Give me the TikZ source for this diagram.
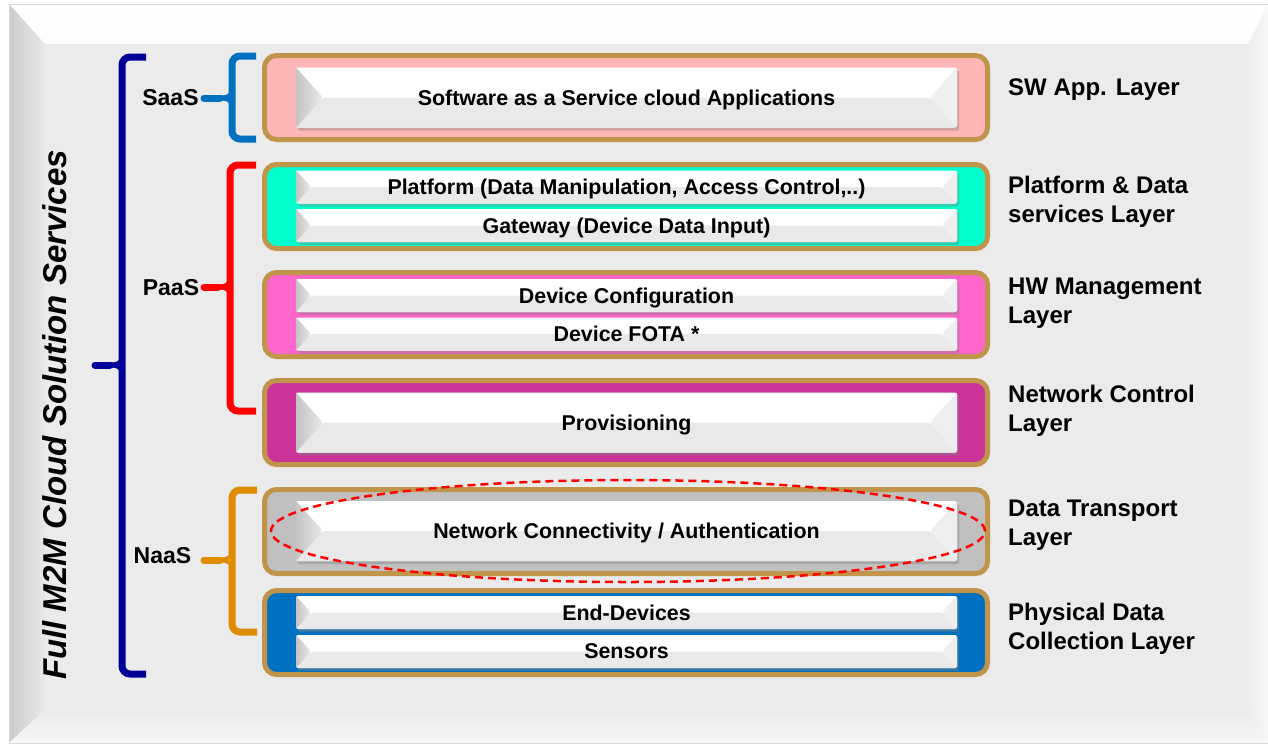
\documentclass[tikz,border=0pt]{standalone}
\usepackage{fontspec}
\setmainfont{Liberation Sans}
\usetikzlibrary{shadows,shapes.geometric}

\definecolor{face}{HTML}{EBEBEB}
\definecolor{layerrim}{HTML}{C0954B}
\definecolor{saasfill}{HTML}{FFB6B6}
\definecolor{platfill}{HTML}{00FFCC}
\definecolor{hwfill}{HTML}{FF66CC}
\definecolor{netfill}{HTML}{CC3399}
\definecolor{transfill}{HTML}{C0C0C0}
\definecolor{physfill}{HTML}{0070C0}
\definecolor{saasblue}{HTML}{0070C0}
\definecolor{paasred}{HTML}{FF0000}
\definecolor{naasorange}{HTML}{E08C00}
\definecolor{fullnavy}{HTML}{000099}
\definecolor{btnlow}{HTML}{E9E9E9}
\definecolor{btnleft}{HTML}{C4C4C4}
\definecolor{btnright}{HTML}{EFEFEF}

% square bracket with a small spike pointing left
% #1 colour, #2 x of the spine, #3 top, #4 bottom, #5 y of spike, #6 x of spike tip, #7 x of the bracket ends
\newcommand\layerbrace[7]{%
  \draw[#1, line width=7pt, rounded corners=8pt] (#7,#3) -- (#2,#3) -- (#2,#4) -- (#7,#4);
  \draw[#1, line width=7pt, line cap=round] (#6,#5) -- ({#2-12},#5);
  \draw[#1, line width=5pt] ({#2-12},#5) .. controls ({#2-3},#5) and (#2,{#5-2}) .. (#2,{#5-9});
  \draw[#1, line width=5pt] ({#2-12},#5) .. controls ({#2-3},#5) and (#2,{#5+2}) .. (#2,{#5+9});
}

\tikzset{
  layerbox/.style={draw=layerrim, line width=5pt, rounded corners=12pt,
    minimum width=723pt, minimum height=84pt, inner sep=0pt},
  bevelsize/.store in=\bevsize, bevelsize=15,
  btn/.style={rounded corners=2pt, minimum width=661pt, inner sep=0pt, fill=white,
    font=\bfseries\fontsize{21.4}{25}\selectfont, text depth=0pt,
    drop shadow={shadow xshift=2pt, shadow yshift=-3pt, opacity=0.4},
    path picture={
      \fill[btnlow] ([xshift=\bevsize pt]path picture bounding box.west)
        -- (path picture bounding box.south west) -- (path picture bounding box.south east)
        -- ([xshift=-\bevsize pt]path picture bounding box.east) -- cycle;
      \shade[left color=btnleft, right color=btnlow] (path picture bounding box.north west)
        -- ([xshift=\bevsize pt]path picture bounding box.west)
        -- (path picture bounding box.south west) -- cycle;
      \fill[btnright] (path picture bounding box.north east)
        -- ([xshift=-\bevsize pt]path picture bounding box.east)
        -- (path picture bounding box.south east) -- cycle;
    }},
  tallbtn/.style={btn, minimum height=60pt, bevelsize=27},
  thinbtn/.style={btn, minimum height=33pt, bevelsize=15},
  sidelabel/.style={font=\bfseries\fontsize{24}{29}\selectfont, anchor=west, align=left, inner sep=0pt},
  bracelabel/.style={font=\bfseries\fontsize{23}{27}\selectfont, inner sep=0pt},
}

\begin{document}
\begin{tikzpicture}[x=1pt, y=-1pt]
\useasboundingbox (0,0) rectangle (1268,745);

% bevelled panel
\fill[white] (0,0) rectangle (1268,745);
\shade[top color=white, bottom color=white!90!face] (9,4) -- (1268,4) -- (1248,44) -- (45,44) -- cycle;
\shade[left color=black!20, right color=black!9] (9,4) -- (45,44) -- (45,710) -- (9,743) -- cycle;
\shade[left color=black!7, right color=black!3] (1268,4) -- (1268,743) -- (1248,710) -- (1248,44) -- cycle;
\shade[top color=black!8, bottom color=black!3] (9,743) -- (1268,743) -- (1248,710) -- (45,710) -- cycle;
\fill[face] (45,44) rectangle (1248,710);
\draw[black!15, line width=1pt] (9,4) rectangle (1268,743);

% layer boxes
\node[layerbox, fill=saasfill]  (L1) at (626,97.5)  {};
\node[layerbox, fill=platfill]  (L2) at (626,206.5) {};
\node[layerbox, fill=hwfill]    (L3) at (626,314.5) {};
\node[layerbox, fill=netfill]   (L4) at (626,422.5) {};
\node[layerbox, fill=transfill] (L5) at (626,531.5) {};
\node[layerbox, fill=physfill]  (L6) at (626,632.5) {};

% service buttons
\node[tallbtn] (B1)  at (626.5,97.5)  {Software as a Service cloud Applications};
\node[thinbtn] (B2a) at (626.5,187)   {Platform (Data Manipulation, Access Control,..)};
\node[thinbtn] (B2b) at (626.5,225.5) {Gateway (Device Data Input)};
\node[thinbtn] (B3a) at (626.5,295.5) {Device Configuration};
\node[thinbtn] (B3b) at (626.5,334)   {Device FOTA *};
\node[tallbtn] (B4)  at (626.5,422.5) {Provisioning};
\node[tallbtn] (B5)  at (626.5,531)   {Network Connectivity / Authentication};
\node[thinbtn] (B6a) at (626.5,612.5) {End-Devices};
\node[thinbtn] (B6b) at (626.5,651.5) {Sensors};

% highlight ring
\node[draw=paasred, dashed, dash pattern=on 8pt off 5pt, line width=2.5pt, ellipse,
      minimum width=714pt, minimum height=102pt, inner sep=0pt] (ring) at (628,531) {};

% layer names
\node[sidelabel] (N1) at (1008,90)    {SW App. Layer};
\node[sidelabel] (N2) at (1008,202) {Platform \& Data\\services Layer};
\node[sidelabel] (N3) at (1008,303) {HW Management\\Layer};
\node[sidelabel] (N4) at (1008,411) {Network Control\\Layer};
\node[sidelabel] (N5) at (1008,525) {Data Transport\\Layer};
\node[sidelabel] (N6) at (1008,629) {Physical Data\\Collection Layer};

% service model brackets
\layerbrace{saasblue}{232}{56}{139}{98}{204}{256}
\layerbrace{paasred}{230}{165}{411}{287}{204}{256}
\layerbrace{naasorange}{232}{490}{632}{560}{204}{257}
\layerbrace{fullnavy}{122}{57}{674}{365}{95}{146}

\node[bracelabel] (S) at (170.5,98)  {SaaS};
\node[bracelabel] (P) at (171,288)   {PaaS};
\node[bracelabel] (N) at (162.5,556) {NaaS};

\node[font=\bfseries\itshape\fontsize{33}{37}\selectfont, rotate=90, inner sep=0pt] (T) at (55,415)
  {Full M2M Cloud Solution Services};
\end{tikzpicture}
\end{document}
